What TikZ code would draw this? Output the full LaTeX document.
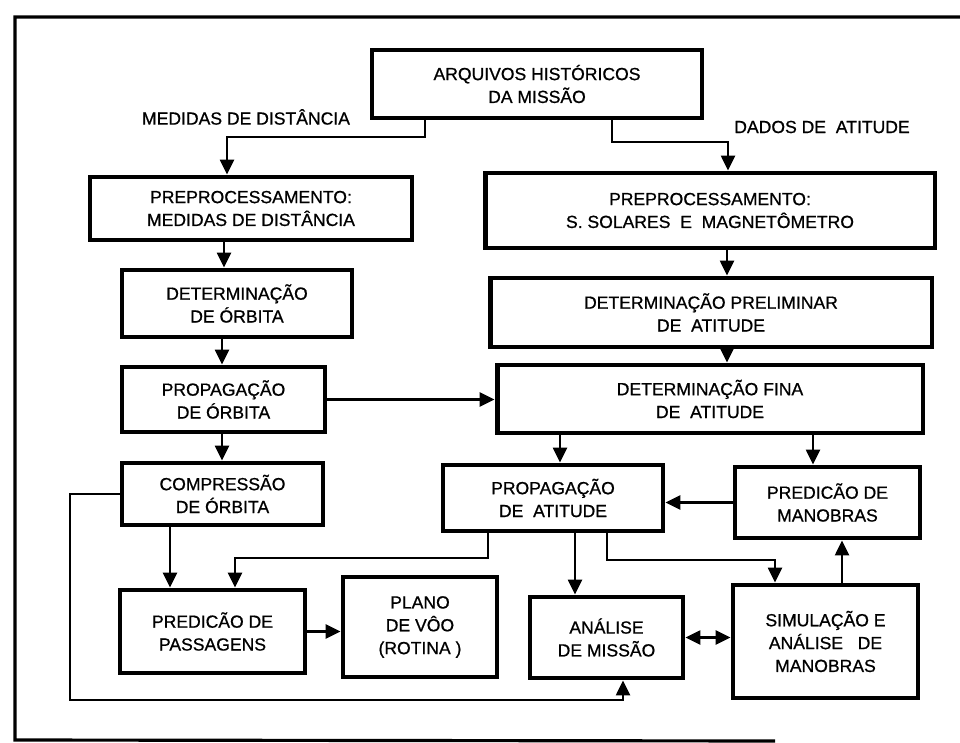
\documentclass[tikz,border=0pt]{standalone}
\usepackage{fontspec}
\setmainfont{Liberation Sans}[FakeBold=0.8]
\usepackage{tikz}
\usetikzlibrary{arrows.meta}

\begin{document}
\begin{tikzpicture}[x=0.02cm,y=-0.02cm,
    box/.style={draw,line width=2.8pt,align=center,inner sep=0pt,font=\fontsize{10}{13}\selectfont},
    lbl/.style={font=\fontsize{10}{13}\selectfont},
    conn/.style={line width=1.4pt,-{Triangle[length=0.3cm,width=0.28cm]}},
    frame/.style={line width=1.8pt}]
    \useasboundingbox (0,0) rectangle (960,743);

    % Frame
    \draw[frame] (960,17) -- (15,17) -- (15,740) -- (775,741);

    % Boxes
    \node[box,minimum width=6.6cm,minimum height=1.36cm] (arq) at (537,84) {ARQUIVOS HISTÓRICOS\\DA MISSÃO};
    \node[box,minimum width=6.44cm,minimum height=1.26cm] (preL) at (251,208.5) {PREPROCESSAMENTO:\\MEDIDAS DE DISTÂNCIA};
    \node[box,minimum width=9.0cm,minimum height=1.5cm] (preR) at (710,210.5) {PREPROCESSAMENTO:\\S. SOLARES \ E \ MAGNETÔMETRO};
    \node[box,minimum width=4.6cm,minimum height=1.34cm] (detO) at (237,303.5) {DETERMINAÇÃO\\DE ÓRBITA};
    \node[box,minimum width=4.06cm,minimum height=1.3cm] (propO) at (223.5,399.5) {PROPAGAÇÃO\\DE ÓRBITA};
    \node[box,minimum width=4.02cm,minimum height=1.24cm] (comp) at (222.5,494) {COMPRESSÃO\\DE ÓRBITA};
    \node[box,minimum width=8.84cm,minimum height=1.38cm] (detP) at (711,312.5) {DETERMINAÇÃO PRELIMINAR\\DE \ ATITUDE};
    \node[box,minimum width=8.52cm,minimum height=1.36cm] (detF) at (710,399) {DETERMINAÇÃO FINA\\DE \ ATITUDE};
    \node[box,minimum width=4.4cm,minimum height=1.32cm] (propA) at (553,498) {PROPAGAÇÃO\\DE \ ATITUDE};
    \node[box,minimum width=3.7cm,minimum height=1.42cm] (predM) at (827.5,502.5) {PREDICÃO DE\\MANOBRAS};
    \node[box,minimum width=3.7cm,minimum height=1.66cm] (predP) at (212.5,631.5) {PREDICÃO DE\\PASSAGENS};
    \node[box,minimum width=3.08cm,minimum height=2.0cm] (plano) at (420,627) {PLANO\\DE VÔO\\(ROTINA )};
    \node[box,minimum width=3.06cm,minimum height=1.62cm] (anal) at (606.5,637.5) {ANÁLISE\\DE MISSÃO};
    \node[box,minimum width=3.7cm,minimum height=2.26cm] (simul) at (825.5,641.5) {SIMULAÇÃO E\\ANÁLISE \ \ DE\\MANOBRAS};

    % Labels
    \node[lbl] (medidas) at (246,117) {MEDIDAS DE DISTÂNCIA};
    \node[lbl] (dados) at (822,127) {DADOS DE \ ATITUDE};

    % Left branch
    \draw[conn] (arq.south -| 425,0) |- (227,137) -- (preL.north -| 227,0);
    \draw[conn] (preL.south -| 224,0) -- (detO.north -| 224,0);
    \draw[conn] (detO.south -| 222,0) -- (propO.north -| 222,0);
    \draw[conn] (propO.south -| 222,0) -- (comp.north -| 222,0);
    \draw[conn] (propO.east) -- (detF.west |- propO.east);
    \draw[conn] (comp.south -| 170,0) -- (predP.north -| 170,0);
    \draw[conn] (comp.west) -| (70,700) -| (anal.south -| 623,0);
    \draw[conn] (predP.east) -- (plano.west |- predP.east);

    % Right branch
    \draw[conn] (arq.south -| 612,0) |- (728,142) -- (preR.north -| 728,0);
    \draw[conn] (preR.south -| 727,0) -- (detP.north -| 727,0);
    \draw[conn] (detP.south -| 727,0) -- (detF.north -| 727,0);
    \draw[conn] (detF.south -| 560,0) -- (propA.north -| 560,0);
    \draw[conn] (detF.south -| 813,0) -- (predM.north -| 813,0);
    \draw[conn] (predM.west) -- (propA.east |- predM.west);
    \draw[conn] (propA.south -| 488,0) |- (235,558) -- (predP.north -| 235,0);
    \draw[conn] (propA.south -| 575,0) -- (anal.north -| 575,0);
    \draw[conn] (propA.south -| 607,0) |- (775,560) -- (simul.north -| 775,0);
    \draw[conn,{Triangle[length=0.3cm,width=0.28cm]}-{Triangle[length=0.3cm,width=0.28cm]}] (anal.east) -- (simul.west |- anal.east);
    \draw[conn] (simul.north -| 842,0) -- (predM.south -| 842,0);
\end{tikzpicture}
\end{document}
